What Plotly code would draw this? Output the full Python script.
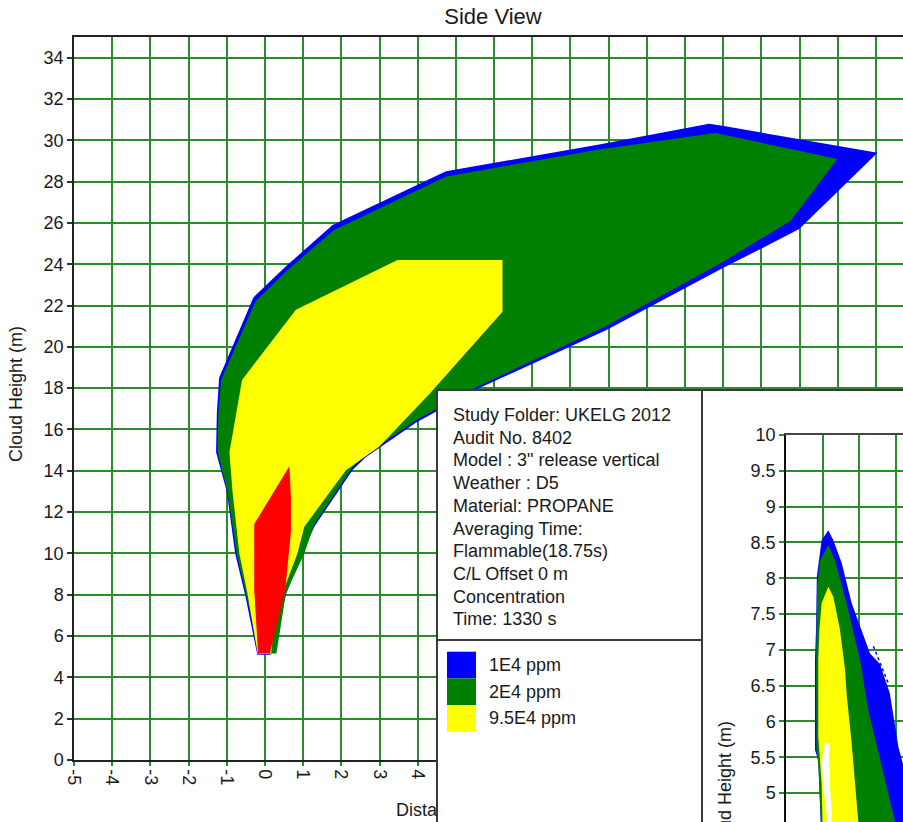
import plotly.graph_objects as go

W, H = 903, 822

# ---------------- data: main side view (distance m, cloud height m) ----------------
blue_x = [0.15, -0.2, -0.52, -0.78, -1.0, -1.28, -1.26, -1.2, -0.3, 0.07, 0.55, 1.77, 4.74, 8.75,
          11.63, 11.98, 16.04, 13.99, 11.98, 8.93, 5.6, 4.5, 3.95, 2.64, 2.3, 1.3, 1.0, 0.55, 0.15]
blue_y = [5.1, 5.1, 8.0, 10.0, 13.0, 14.9, 16.77, 18.5, 22.4, 23.05, 23.9, 25.9, 28.5, 29.8,
          30.8, 30.7, 29.4, 25.7, 23.8, 20.8, 18.0, 16.88, 16.33, 14.65, 14.05, 11.32, 10.12, 8.02, 5.1]

green_x = [0.3, -0.15, -0.5, -0.74, -0.98, -1.24, -1.22, -1.15, -0.25, 0.07, 0.55, 1.8, 4.75, 8.75,
           11.8, 14.99, 13.77, 11.98, 8.93, 5.6, 4.5, 3.95, 2.64, 2.3, 1.29, 1.03, 0.55, 0.3]
green_y = [5.15, 5.15, 8.08, 10.0, 13.0, 14.9, 16.77, 18.4, 22.2, 22.8, 23.65, 25.65, 28.25, 29.55,
           30.35, 29.1, 26.1, 24.1, 21.0, 18.1, 17.0, 16.45, 14.75, 14.2, 11.4, 10.0, 8.08, 5.15]

yellow_x = [0.16, -0.19, -0.46, -0.67, -0.85, -0.93, -0.75, -0.6, 0.81, 3.47, 6.22, 6.22, 4.3,
            2.99, 2.12, 1.03, 0.85, 0.46, 0.2, 0.16]
yellow_y = [5.15, 5.15, 8.08, 10.0, 13.0, 14.9, 16.8, 18.4, 21.8, 24.2, 24.2, 21.7, 17.7,
            15.16, 14.03, 11.29, 10.0, 8.08, 5.8, 5.15]

red_x = [-0.18, 0.13, 0.53, 0.68, 0.68, 0.64, -0.28, -0.28, -0.18]
red_y = [5.18, 5.18, 8.22, 11.05, 12.74, 14.22, 11.42, 8.22, 5.18]

# ---------------- data: inset (near-field view) ----------------
in_blue_x = [-0.05, -0.12, -0.21, -0.21, -0.18, -0.16, -0.03, 0.153, 0.29, 0.52, 0.79, 1.06,
             1.29, 1.56, 1.83, 2.06, 2.19, 2.19]
in_blue_y = [4.5, 5.46, 5.6, 6.86, 7.32, 8.02, 8.53, 8.67, 8.53, 8.21, 7.65, 7.28,
             6.95, 6.8, 6.39, 5.65, 5.4, 4.5]
in_blue_dots_x = [1.38, 1.79]
in_blue_dots_y = [7.05, 6.53]

in_green_x = [-0.04, -0.12, -0.17, -0.18, -0.15, -0.07, 0.153, 0.335, 0.65, 0.88, 1.02, 1.24, 1.97, 2.02]
in_green_y = [4.5, 5.4, 5.6, 6.72, 7.88, 8.25, 8.46, 8.25, 7.65, 7.18, 6.86, 6.16, 4.6, 4.5]

in_yellow_x = [0.0, -0.03, -0.12, -0.12, -0.09, -0.03, 0.153, 0.29, 0.47, 0.61, 0.65, 0.79, 0.97, 0.99]
in_yellow_y = [4.5, 5.13, 5.79, 6.86, 7.28, 7.65, 7.88, 7.74, 7.28, 6.72, 6.39, 5.69, 4.6, 4.5]

in_hole_x = [0.063, 0.18, 0.18, 0.2, 0.244, 0.23, 0.12, 0.108, 0.017, -0.028]
in_hole_y = [5.69, 5.69, 5.46, 5.09, 4.716, 4.5, 4.5, 4.716, 5.09, 5.46]

# ---------------- tick labels and texts ----------------
x_tick_vals = list(range(-5, 17))
x_tick_labels = [str(v) for v in x_tick_vals]
y_tick_vals = list(range(0, 35, 2))
y_tick_labels = [str(v) for v in y_tick_vals]
inset_y_vals = [5, 5.5, 6, 6.5, 7, 7.5, 8, 8.5, 9, 9.5, 10]
inset_y_labels = ["5", "5.5", "6", "6.5", "7", "7.5", "8", "8.5", "9", "9.5", "10"]
inset_x_vals = [0, 1, 2]

info_lines = ["Study Folder: UKELG 2012", "Audit No. 8402", "Model : 3\" release vertical",
              "Weather : D5", "Material: PROPANE", "Averaging Time:", "Flammable(18.75s)",
              "C/L Offset 0 m", "Concentration", "Time: 1330 s"]
legend_labels = ["1E4 ppm", "2E4 ppm", "9.5E4 ppm"]
legend_colors = ["#0000FF", "#008000", "#FFFF00"]

BLUE, GREEN, YELLOW, RED = "#0000FF", "#008000", "#FFFF00", "#FF0000"
GRID = "#2a8c2a"
TXT = "#1a1a1a"
FONT = "Liberation Sans, Arial, sans-serif"
BORDER = "#3a3a3a"


def px(xp):
    return xp / W


def py(yp):
    return 1 - yp / H


fig = go.Figure()


def poly(x, y, color, xa="x", ya="y"):
    fig.add_trace(go.Scatter(x=x, y=y, mode="lines", fill="toself", fillcolor=color,
                             line=dict(width=0, color=color), hoverinfo="skip",
                             showlegend=False, xaxis=xa, yaxis=ya))


# main plume
poly(blue_x, blue_y, BLUE)
poly(green_x, green_y, GREEN)
poly(yellow_x, yellow_y, YELLOW)
poly(red_x, red_y, RED)

# cover panel subplot (white background over the main plot)
fig.add_trace(go.Scatter(x=[None], y=[None], mode="markers", showlegend=False,
                         xaxis="x2", yaxis="y2", hoverinfo="skip"))

# inset plume
poly(in_blue_x, in_blue_y, BLUE, "x3", "y3")
fig.add_trace(go.Scatter(x=in_blue_dots_x, y=in_blue_dots_y, mode="lines",
                         line=dict(color=BLUE, width=1.5, dash="dot"), showlegend=False,
                         hoverinfo="skip", xaxis="x3", yaxis="y3"))
poly(in_green_x, in_green_y, GREEN, "x3", "y3")
poly(in_yellow_x, in_yellow_y, YELLOW, "x3", "y3")
poly(in_hole_x, in_hole_y, "#FFFFFF", "x3", "y3")

# x-axis title of main chart, clipped by the info panel (text trace in its own strip)
fig.add_trace(go.Scatter(x=[396], y=[811], mode="text", text=["Distance Downwind (m)"],
                         textposition="middle right", textfont=dict(size=18, color=TXT, family=FONT),
                         cliponaxis=True, showlegend=False, hoverinfo="skip",
                         xaxis="x4", yaxis="y4"))

axis_font = dict(size=18, color=TXT, family=FONT)

fig.update_layout(
    template="none",
    width=W, height=H,
    margin=dict(l=0, r=0, t=0, b=0, pad=0),
    paper_bgcolor="white", plot_bgcolor="white",
    showlegend=False,
    font=dict(family=FONT, size=18, color=TXT),
    title=dict(text="Side View", x=px(493), xanchor="center", y=py(16), yanchor="middle",
               font=dict(size=22, color=TXT, family=FONT)),
    xaxis=dict(domain=[px(74), 1], anchor="y", range=[-5, 16.707],
               tickmode="array", tickvals=x_tick_vals, ticktext=x_tick_labels, tickangle=90,
               ticks="outside", ticklen=4, tickcolor=GRID, tickwidth=1.5, tickfont=axis_font,
               showgrid=True, gridcolor=GRID, gridwidth=1.5, zeroline=False,
               showline=True, linecolor="#222222", linewidth=1.5, mirror=True, automargin=False),
    yaxis=dict(domain=[py(760), py(37)], anchor="x", range=[0, 35],
               tickmode="array", tickvals=y_tick_vals, ticktext=y_tick_labels,
               ticks="outside", ticklen=5, tickcolor="#333333", tickwidth=1.5, tickfont=axis_font,
               showgrid=True, gridcolor=GRID, gridwidth=1.5, zeroline=False,
               showline=True, linecolor="#222222", linewidth=1.5, mirror=False, automargin=False),
    xaxis2=dict(domain=[px(437), 1], anchor="y2", range=[0, 1], visible=False),
    yaxis2=dict(domain=[0, py(390)], anchor="x2", range=[0, 1], visible=False),
    xaxis3=dict(domain=[px(786), 1], anchor="y3", range=[-1, 2.188], side="top",
                tickmode="array", tickvals=inset_x_vals, showticklabels=False, ticks="",
                showgrid=True, gridcolor=GRID, gridwidth=1.5, zeroline=False,
                showline=True, linecolor="#444444", linewidth=2, automargin=False),
    yaxis3=dict(domain=[0, py(435)], anchor="x3", range=[4.595, 10],
                tickmode="array", tickvals=inset_y_vals, ticktext=inset_y_labels,
                ticks="outside", ticklen=5, tickcolor=GRID, tickwidth=1.5, tickfont=axis_font,
                showgrid=True, gridcolor=GRID, gridwidth=1.5, zeroline=False,
                showline=True, linecolor="#111111", linewidth=1.5, automargin=False),
    xaxis4=dict(domain=[0, px(437)], anchor="y4", range=[0, 437], visible=False),
    yaxis4=dict(domain=[0, py(760)], anchor="x4", range=[822, 760], visible=False),
)

shapes = [
    # panel borders
    dict(type="line", xref="paper", yref="paper", x0=px(437), x1=1, y0=py(390), y1=py(390)),
    dict(type="line", xref="paper", yref="paper", x0=px(437), x1=px(437), y0=py(390), y1=0),
    dict(type="line", xref="paper", yref="paper", x0=px(702), x1=px(702), y0=py(390), y1=0),
    dict(type="line", xref="paper", yref="paper", x0=px(437), x1=px(702), y0=py(640), y1=py(640)),
]
for s in shapes:
    s["line"] = dict(color=BORDER, width=2)
    s["layer"] = "above"

# legend swatches
sw_top = 651.7
sw_h = 26.7
annotations = []
for i, (lab, col) in enumerate(zip(legend_labels, legend_colors)):
    y0 = sw_top + i * sw_h
    shapes.append(dict(type="rect", xref="paper", yref="paper", x0=px(447), x1=px(476),
                       y0=py(y0 + sw_h), y1=py(y0), fillcolor=col, line=dict(width=0),
                       layer="above"))
    annotations.append(dict(text=lab, xref="paper", yref="paper", x=px(487), y=py(y0 + sw_h / 2),
                            xanchor="left", yanchor="middle", showarrow=False,
                            font=dict(size=18, color=TXT, family=FONT)))

# info box text
for i, line in enumerate(info_lines):
    annotations.append(dict(text=line, xref="paper", yref="paper", x=px(451), y=py(415 + i * 22.7),
                            xanchor="left", yanchor="middle", showarrow=False,
                            font=dict(size=18, color=TXT, family=FONT)))

# axis titles
annotations.append(dict(text="Cloud Height (m)", xref="paper", yref="paper", x=px(16), y=py(394),
                        xanchor="center", yanchor="middle", textangle=-90, showarrow=False,
                        font=dict(size=18, color=TXT, family=FONT)))
annotations.append(dict(text="Cloud Height (m)", xref="paper", yref="paper", x=px(725), y=py(789),
                        xanchor="center", yanchor="middle", textangle=-90, showarrow=False,
                        font=dict(size=18, color=TXT, family=FONT)))

fig.update_layout(shapes=shapes, annotations=annotations)

fig.write_html("out.html")
